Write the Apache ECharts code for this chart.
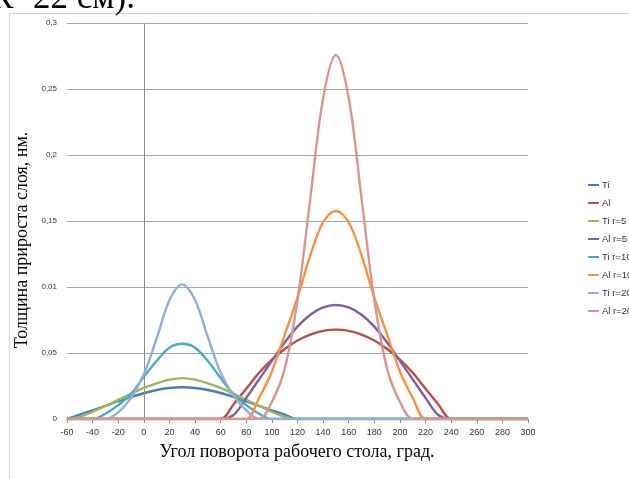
<!DOCTYPE html>
<html>
<head>
<meta charset="utf-8">
<script src="https://cdn.jsdelivr.net/npm/echarts@6/dist/echarts.min.js"></script>
<style>
  html, body { margin: 0; padding: 0; background: #fff; }
  #chart { width: 629px; height: 479px; }
</style>
</head>
<body>
<div id="chart"></div>
<script>
// Rotation angle of the work table, degrees
const angles = [-60, -50, -40, -30, -20, -10, 0, 10, 20, 30, 40, 50, 60, 70, 80, 90, 100, 110, 120,
  130, 140, 150, 160, 170, 180, 190, 200, 210, 220, 230, 240, 250, 260, 270, 280, 290, 300];

// Layer growth thickness per series, nm
const ti    = [0, 0.0033, 0.0066, 0.0100, 0.0135, 0.0167, 0.0195, 0.0220, 0.0235, 0.0240, 0.0235, 0.0220, 0.0197, 0.0168, 0.0134, 0.0100, 0.0066, 0.0033, 0,
  0, 0, 0, 0, 0, 0, 0, 0, 0, 0, 0, 0, 0, 0, 0, 0, 0, 0];
const al    = [0, 0, 0, 0, 0, 0, 0, 0, 0, 0, 0, 0, 0, 0.011, 0.023, 0.035, 0.045, 0.053, 0.0595,
  0.064, 0.0668, 0.0677, 0.0668, 0.064, 0.0595, 0.053, 0.045, 0.035, 0.023, 0.011, 0, 0, 0, 0, 0, 0, 0];
const ti5   = [0, 0.0015, 0.0055, 0.0100, 0.0145, 0.0190, 0.0235, 0.0270, 0.0298, 0.0310, 0.0298, 0.0270, 0.0235, 0.0190, 0.0145, 0.0100, 0.0055, 0.0015, 0,
  0, 0, 0, 0, 0, 0, 0, 0, 0, 0, 0, 0, 0, 0, 0, 0, 0, 0];
const al5   = [0, 0, 0, 0, 0, 0, 0, 0, 0, 0, 0, 0, 0, 0.003, 0.016, 0.030, 0.044, 0.058, 0.070,
  0.079, 0.0845, 0.0864, 0.0845, 0.079, 0.070, 0.058, 0.044, 0.030, 0.016, 0.003, 0, 0, 0, 0, 0, 0, 0];
const ti10  = [0, 0, 0, 0.004, 0.0105, 0.019, 0.032, 0.044, 0.054, 0.057, 0.054, 0.044, 0.031, 0.019, 0.0105, 0.004, 0, 0, 0,
  0, 0, 0, 0, 0, 0, 0, 0, 0, 0, 0, 0, 0, 0, 0, 0, 0, 0];
const al10  = [0, 0, 0, 0, 0, 0, 0, 0, 0, 0, 0, 0, 0, 0, 0, 0.016, 0.036, 0.064, 0.092,
  0.124, 0.149, 0.1576, 0.149, 0.124, 0.092, 0.064, 0.036, 0.016, 0, 0, 0, 0, 0, 0, 0, 0, 0];
const ti20  = [0, 0, 0, 0, 0.005, 0.016, 0.034, 0.061, 0.090, 0.102, 0.090, 0.062, 0.035, 0.018, 0.0065, 0, 0, 0, 0,
  0, 0, 0, 0, 0, 0, 0, 0, 0, 0, 0, 0, 0, 0, 0, 0, 0, 0];
const al20  = [0, 0, 0, 0, 0, 0, 0, 0, 0, 0, 0, 0, 0, 0, 0, 0, 0.013, 0.038, 0.090,
  0.167, 0.243, 0.2758, 0.243, 0.167, 0.090, 0.038, 0.013, 0, 0, 0, 0, 0, 0, 0, 0, 0, 0];

const seriesNames  = ['Ti', 'Al', 'Ti r=5 см', 'Al r=5 см', 'Ti r=10 см', 'Al r=10 см', 'Ti r=20 см', 'Al r=20 см'];
const seriesValues = [ti, al, ti5, al5, ti10, al10, ti20, al20];
const seriesColors = ['#4A7EBB', '#BE4B48', '#98B954', '#7D60A0', '#46AAC5', '#F69240', '#94AED6', '#D99593'];

// Vertical axis labels as printed on the chart
const yTickLabels = ['0', '0,05', '0.01', '0,15', '0,2', '0,25', '0,3'];
const yStep = 0.05;

const chart = echarts.init(document.getElementById('chart'), null, { renderer: 'canvas' });

const series = seriesValues.map((vals, k) => ({
  name: seriesNames[k],
  type: 'line',
  smooth: 0.35,
  symbol: 'none',
  clip: true,
  color: seriesColors[k],
  lineStyle: { width: 2.4, color: seriesColors[k] },
  data: angles.map((a, i) => [a, vals[i]]),
  z: 3 + k
}));

// Vertical axis crosses the horizontal one at 0°
series[0].markLine = {
  silent: true,
  symbol: 'none',
  label: { show: false },
  lineStyle: { color: '#8c8c8c', width: 1, type: 'solid' },
  data: [{ xAxis: 0 }],
  animation: false
};

const option = {
  animation: false,
  backgroundColor: '#fff',
  grid: { left: 67, right: 101, top: 23, bottom: 60, containLabel: false },
  legend: {
    orient: 'vertical',
    left: 588,
    top: 180,
    icon: 'rect',
    itemWidth: 11,
    itemHeight: 2,
    itemGap: 8,
    padding: 0,
    textStyle: { fontSize: 9.5, lineHeight: 10, color: '#333', fontFamily: 'Liberation Sans', padding: [0, 0, 0, -2] },
    data: seriesNames
  },
  xAxis: {
    type: 'value',
    min: -60,
    max: 300,
    interval: 20,
    axisLine: { show: true, onZero: false, lineStyle: { color: '#8c8c8c', width: 1 } },
    axisTick: { show: true, length: 4, lineStyle: { color: '#8c8c8c' } },
    axisLabel: { fontSize: 9, color: '#333', margin: 9, fontFamily: 'Liberation Sans' },
    splitLine: { show: false }
  },
  yAxis: {
    type: 'value',
    min: 0,
    max: 0.3,
    interval: yStep,
    axisLine: { show: false },
    axisTick: { show: false },
    axisLabel: {
      fontSize: 8,
      color: '#333',
      margin: 10,
      fontFamily: 'Liberation Sans',
      formatter: v => yTickLabels[Math.round(v / yStep)]
    },
    splitLine: { show: true, lineStyle: { color: '#a6a6a6', width: 1 } }
  },
  graphic: [
    {
      type: 'rect',
      silent: true,
      z: -10,
      shape: { x: 9.5, y: 13.5, width: 660, height: 480 },
      style: { fill: 'none', stroke: '#d4d4d4', lineWidth: 1 }
    },
    {
      type: 'text',
      silent: true,
      x: -10,
      y: -1,
      style: {
        text: 'R=22 см).',
        font: '35px "Liberation Serif"',
        fill: '#000',
        verticalAlign: 'middle'
      }
    },
    {
      type: 'text',
      silent: true,
      x: 297,
      y: 452,
      style: {
        text: 'Угол поворота рабочего стола, град.',
        font: '18px "Liberation Serif"',
        fill: '#000',
        align: 'center',
        verticalAlign: 'middle'
      }
    },
    {
      type: 'text',
      silent: true,
      x: 22,
      y: 240,
      rotation: Math.PI / 2,
      style: {
        text: 'Толщина прироста слоя, нм.',
        font: '18px "Liberation Serif"',
        fill: '#000',
        align: 'center',
        verticalAlign: 'middle'
      }
    }
  ],
  series: series
};

chart.setOption(option);
</script>
</body>
</html>
